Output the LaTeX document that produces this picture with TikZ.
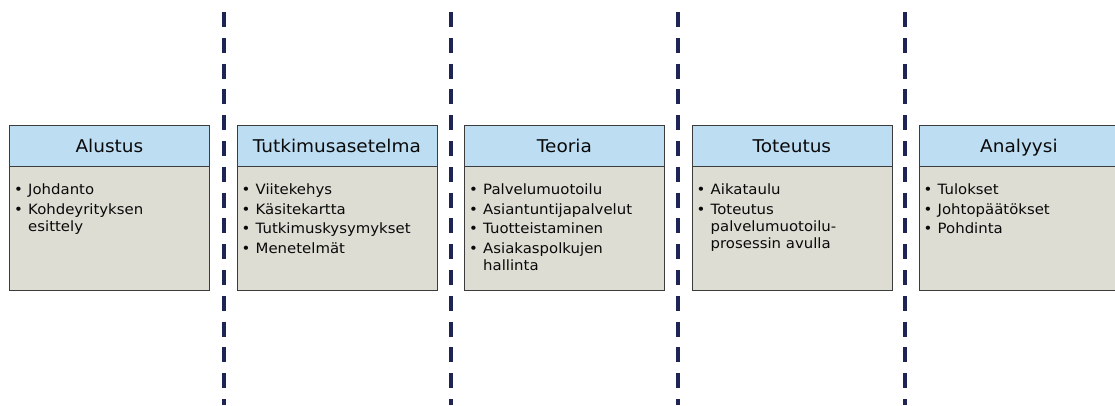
\documentclass[tikz,border=0pt]{standalone}
\usepackage{fontspec}
\setmainfont{DejaVu Sans}[FakeStretch=1.05]
\definecolor{headblue}{HTML}{BDDDF3}
\definecolor{bodygray}{HTML}{DDDDD4}
\definecolor{edgegray}{HTML}{3C3C3C}
\definecolor{navy}{HTML}{1E2555}
\definecolor{ink}{HTML}{0A0A0A}
\newlength\bulind
\setlength\bulind{14pt}
\newcommand\bul[1]{\par\noindent\makebox[\bulind][l]{•}\parbox[t]{176pt}{\raggedright\strut#1\strut}}
\tikzset{
  headbox/.style={draw=edgegray, line width=0.8pt, fill=headblue, minimum width=200pt, minimum height=41pt,
    inner sep=0pt, text height=12.8pt, text depth=0pt, text=ink, font=\fontsize{17.6}{20}\selectfont, anchor=north west},
  bodybox/.style={draw=edgegray, line width=0.8pt, fill=bodygray, minimum width=200pt, minimum height=124pt,
    inner sep=0pt, anchor=north west},
  bodytext/.style={anchor=north west, inner sep=0pt, text width=192pt, align=left, text=ink,
    font=\fontsize{14.2}{17}\selectfont\setlength\parskip{2.5pt}\setlength\lineskip{0pt}},
  sepline/.style={draw=navy, line width=3.2pt, dash pattern=on 15pt off 10.8pt}
}
\begin{document}
\begin{tikzpicture}[x=1pt,y=-1pt]
\clip (0,0) rectangle (1115,405);
\fill[white] (0,0) rectangle (1115,405);
% separators
\foreach \i/\xx in {1/224,2/451,3/678,4/905}{
  \coordinate (s\i a) at (\xx,12);
  \coordinate (s\i b) at (\xx,405);
  \draw[sepline] (s\i a) -- (s\i b);
}
% box 1
\node[bodybox] (b1) at (9,166) {};
\node[headbox] (h1) at (9,125) {Alustus};
\node[bodytext] (t1) at (14,175.1) {\bul{Johdanto}\bul{Kohdeyrityksen\\esittely}};
% box 2
\node[bodybox] (b2) at (236.5,166) {};
\node[headbox] (h2) at (236.5,125) {Tutkimusasetelma};
\node[bodytext] (t2) at (241.5,175.1) {\bul{Viitekehys}\bul{Käsitekartta}\bul{Tutkimuskysymykset}\bul{Menetelmät}};
% box 3
\node[bodybox] (b3) at (464,166) {};
\node[headbox] (h3) at (464,125) {Teoria};
\node[bodytext] (t3) at (469,175.1) {\bul{Palvelumuotoilu}\bul{Asiantuntijapalvelut}\bul{Tuotteistaminen}\bul{Asiakaspolkujen\\hallinta}};
% box 4
\node[bodybox] (b4) at (691.5,166) {};
\node[headbox] (h4) at (691.5,125) {Toteutus};
\node[bodytext] (t4) at (696.5,175.1) {\bul{Aikataulu}\bul{Toteutus\\palvelumuotoilu-\\prosessin avulla}};
% box 5
\node[bodybox] (b5) at (918.5,166) {};
\node[headbox] (h5) at (918.5,125) {Analyysi};
\node[bodytext] (t5) at (923.5,175.1) {\bul{Tulokset}\bul{Johtopäätökset}\bul{Pohdinta}};
\end{tikzpicture}
\end{document}
